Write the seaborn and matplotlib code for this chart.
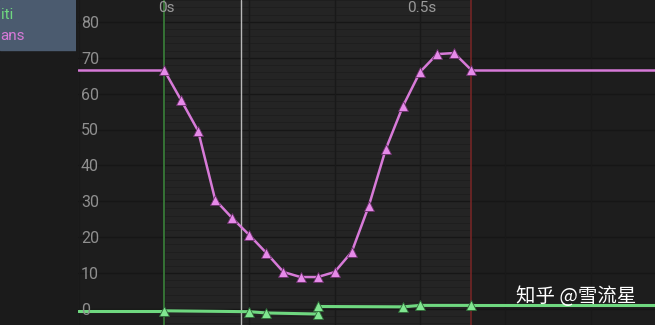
import numpy as np
import pandas as pd
import matplotlib
matplotlib.use("Agg")
import matplotlib.pyplot as plt
import seaborn as sns

# ---- data ----
fps = 30.0
pink_frames = [0, 1, 2, 3, 4, 5, 6, 7, 8, 9, 10, 11, 12, 13, 14, 15, 16, 17, 18]
pink_values = [66.6, 58.2, 49.6, 30.4, 25.3, 20.6, 15.6, 10.3, 8.9, 8.9,
               10.3, 15.9, 28.7, 44.6, 56.5, 66.0, 71.0, 71.3, 66.6]
green_frames = [0, 5, 6, 9, 9, 14, 15, 18]
green_values = [-0.5, -0.75, -1.1, -1.4, 0.7, 0.6, 1.0, 1.0]
y_ticks = [0, 10, 20, 30, 40, 50, 60, 70, 80]
x_tick_times = [0.0, 0.5]
x_tick_labels = ["0s", "0.5s"]
legend_names = ["iti", "ans"]
watermark = "知乎 @雪流星"

pink_col = "#d77ad8"
pink_mk = "#e68ae9"
green_col = "#6fd880"
green_mk = "#80e690"

df = pd.concat([
    pd.DataFrame({"t": np.array(pink_frames) / fps, "v": pink_values, "curve": "pink"}),
    pd.DataFrame({"t": np.array(green_frames) / fps, "v": green_values, "curve": "green"}),
], ignore_index=True)

sns.set_theme(style="dark")
plt.rcParams["font.family"] = ["Roboto", "DejaVu Sans"]

W, H = 655, 325
fig = plt.figure(figsize=(W / 100, H / 100), dpi=100)
fig.patch.set_facecolor("#1b1b1b")

# left panel
left_px = 78
pan = fig.add_axes([0, 0, (left_px - 2) / W, 1])
pan.set_facecolor("#1b1b1b")
pan.set_xlim(0, left_px - 2)
pan.set_ylim(H, 0)
pan.axis("off")
pan.add_patch(plt.Rectangle((0, 0), left_px - 2, 50, color="#4b5b6f", zorder=1))
pan.text(0.5, 15, legend_names[0], color=green_col, fontsize=11, ha="left", va="center",
         zorder=2)
pan.text(0.5, 36, legend_names[1], color=pink_col, fontsize=11, ha="left", va="center",
         zorder=2)

ax = fig.add_axes([left_px / W, 0, 1 - left_px / W, 1])
px_per_s = 512.0
px_per_unit = 3.59
x0_px, y0_px = 164, 309
xmin = (left_px - x0_px) / px_per_s
xmax = (W - x0_px) / px_per_s
ymin = (y0_px - H) / px_per_unit
ymax = y0_px / px_per_unit
ax.set_xlim(xmin, xmax)
ax.set_ylim(ymin, ymax)
ax.set_facecolor("#242424")
for s in ax.spines.values():
    s.set_visible(False)
ax.set_xticks([])
ax.set_yticks([])

t_end = pink_frames[-1] / fps
ax.axvspan(xmin, 0, color="#1d1d1d", zorder=0, lw=0)
ax.axvspan(t_end, xmax, color="#1d1d1d", zorder=0, lw=0)

# grid
for v in np.arange(-4, 88, 2):
    ax.axhline(v, color="#1e1e1e", lw=0.6, zorder=0.5)
for v in np.arange(0, 90, 10):
    ax.axhline(v, color="#161616", lw=1.0, zorder=0.6)
for t in np.arange(-1, 7) / 6.0:
    ax.axvline(t, color="#191919", lw=1.0, zorder=0.6)

ax.axvline(0, color="#3d8a3d", lw=1.1, zorder=1)
ax.axvline(0.15, color="#b8b8b8", lw=1.0, zorder=1)
ax.axvline(t_end, color="#7a2626", lw=1.1, zorder=1)

# flat extensions
ax.plot([xmin, 0], [pink_values[0]] * 2, color=pink_col, lw=1.8, zorder=2)
ax.plot([t_end, xmax], [pink_values[-1]] * 2, color=pink_col, lw=1.8, zorder=2)
ax.plot([xmin, 0], [green_values[0]] * 2, color=green_col, lw=2.2, zorder=2)
ax.plot([green_frames[-1] / fps, xmax], [green_values[-1]] * 2, color=green_col, lw=2.2, zorder=2)

g = df[df.curve == "green"]
p = df[df.curve == "pink"]
sns.lineplot(data=g, x="t", y="v", color=green_col, lw=2.2,
             estimator=None, sort=False, units="curve", ax=ax, zorder=3, legend=False)
sns.lineplot(data=p, x="t", y="v", color=pink_col, lw=1.8,
             estimator=None, sort=False, units="curve", ax=ax, zorder=3, legend=False)
ax.plot(g.t, g.v, ls="none", marker="^", ms=7.5, mfc=green_mk, mec="#2f6a38", mew=0.6, zorder=4)
ax.plot(p.t, p.v, ls="none", marker="^", ms=7.5, mfc=pink_mk, mec="#6a2f6a", mew=0.6, zorder=4)
ax.set_xlabel("")
ax.set_ylabel("")

# labels
for v in y_ticks:
    ax.text(xmin + 3 / px_per_s, v - 0.4, str(v), color="#8f8f8f", fontsize=11.5,
            ha="left", va="center", zorder=5)
for t, lab in zip(x_tick_times, x_tick_labels):
    ax.text(t + 2 / px_per_s, ymax - 7.5 / px_per_unit, lab, color="#9a9a9a", fontsize=11,
            ha="center", va="center", zorder=5)

fig.text(576 / W, 1 - 296 / H, watermark, color="white", fontsize=14,
         ha="center", va="center", family=["Noto Sans CJK SC", "DejaVu Sans"], zorder=10)

fig.savefig("out.png", dpi=100, facecolor=fig.get_facecolor())
